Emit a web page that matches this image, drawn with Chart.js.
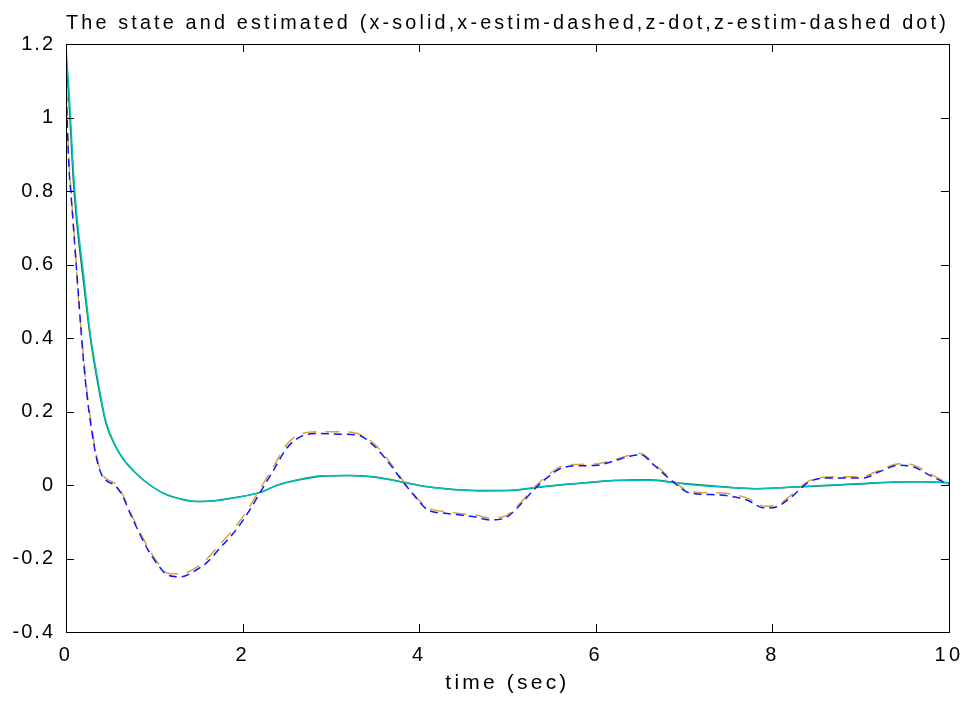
<!DOCTYPE html>
<html>
<head>
<meta charset="utf-8">
<script src="https://cdn.jsdelivr.net/npm/chart.js@4.4.1/dist/chart.umd.min.js"></script>
<style>
  html, body { margin: 0; padding: 0; background: #fff; }
  canvas { display: block; }
</style>
</head>
<body>
<canvas id="state-chart" width="973" height="702"></canvas>
<script>
// time samples (sec) for the slow state x and its estimate
var tX = [0, 0.04, 0.08, 0.12, 0.16, 0.2, 0.27, 0.35, 0.45, 0.55, 0.65, 0.8, 0.95, 1.1, 1.3, 1.5, 1.7, 1.9,
  2.2, 2.4, 2.6, 2.9, 3.2, 3.5, 3.8, 4.1, 4.4, 4.7, 5.0, 5.3, 5.6, 5.9, 6.2, 6.6, 7.0, 7.4, 7.8, 8.2,
  8.6, 9.0, 9.4, 9.7, 10];
var xState = [1.17, 1.02, 0.84, 0.72, 0.63, 0.55, 0.41, 0.29, 0.17, 0.11, 0.07, 0.03, 0.0, -0.022, -0.038,
  -0.045, -0.042, -0.035, -0.02, 0.0, 0.012, 0.024, 0.026, 0.022, 0.009, -0.005, -0.012, -0.015, -0.015,
  -0.008, 0.0, 0.006, 0.012, 0.014, 0.004, -0.004, -0.01, -0.006, -0.002, 0.003, 0.008, 0.009, 0.006];
var xEstim = [1.19, 1.05, 0.87, 0.74, 0.65, 0.57, 0.42, 0.30, 0.175, 0.112, 0.07, 0.03, 0.0, -0.022, -0.039,
  -0.045, -0.043, -0.035, -0.02, 0.0, 0.013, 0.025, 0.026, 0.021, 0.008, -0.005, -0.013, -0.016, -0.015,
  -0.007, 0.001, 0.007, 0.012, 0.013, 0.003, -0.005, -0.01, -0.006, -0.001, 0.004, 0.008, 0.009, 0.005];

// time samples (sec) for z and its estimate
var tZ = [0, 0.03, 0.06, 0.1, 0.14, 0.18, 0.23, 0.29, 0.35, 0.41, 0.47, 0.55, 0.63, 0.75, 0.93, 1.05, 1.15,
  1.3, 1.45, 1.6, 1.75, 1.9, 2.05, 2.2, 2.35, 2.5, 2.67, 2.87, 3.1, 3.3, 3.5, 3.69, 3.8, 3.92, 4.1, 4.29,
  4.48, 4.65, 4.8, 4.97, 5.12, 5.31, 5.45, 5.6, 5.8, 6.02, 6.2, 6.4, 6.51, 6.66, 6.85, 7.07, 7.41, 7.71,
  7.92, 8.05, 8.2, 8.42, 8.65, 9.03, 9.21, 9.44, 9.59, 9.78, 10];
var zState = [1.08, 0.9, 0.79, 0.66, 0.51, 0.40, 0.27, 0.16, 0.075, 0.03, 0.015, 0.005, -0.02, -0.085, -0.17,
  -0.215, -0.24, -0.242, -0.228, -0.2, -0.16, -0.12, -0.07, -0.01, 0.05, 0.11, 0.14, 0.145, 0.145, 0.14,
  0.11, 0.055, 0.018, -0.02, -0.062, -0.072, -0.078, -0.082, -0.09, -0.085, -0.055, -0.005, 0.025, 0.05,
  0.056, 0.058, 0.068, 0.082, 0.086, 0.058, 0.018, -0.018, -0.022, -0.035, -0.058, -0.055, -0.03, 0.012,
  0.022, 0.024, 0.04, 0.058, 0.055, 0.032, 0.003];
var zEstim = [1.1, 0.88, 0.78, 0.65, 0.52, 0.39, 0.26, 0.15, 0.068, 0.025, 0.01, 0.0, -0.025, -0.09, -0.177,
  -0.22, -0.245, -0.25, -0.235, -0.21, -0.17, -0.13, -0.08, -0.02, 0.04, 0.1, 0.133, 0.14, 0.138, 0.136,
  0.104, 0.05, 0.014, -0.022, -0.068, -0.077, -0.082, -0.088, -0.095, -0.09, -0.06, -0.01, 0.02, 0.045,
  0.052, 0.054, 0.065, 0.079, 0.082, 0.054, 0.014, -0.022, -0.027, -0.041, -0.063, -0.059, -0.036, 0.009,
  0.019, 0.019, 0.036, 0.054, 0.05, 0.027, 0.0];

var titleText = 'The state and estimated (x-solid,x-estim-dashed,z-dot,z-estim-dashed dot)';
var xTitle = 'time (sec)';

function pairs(ts, ys) {
  return ts.map(function (t, i) { return { x: t, y: ys[i] }; });
}

// old matlab look: wide letter spacing on the texts.
// title and x axis are drawn before the datasets (wide), the y tick labels (z: 1) after them.
var spacing = {
  id: 'spacing',
  beforeUpdate: function (chart) { chart.ctx.letterSpacing = '2px'; },
  beforeDraw: function (chart) { chart.ctx.letterSpacing = '3.2px'; },
  afterDatasetsDraw: function (chart) { chart.ctx.letterSpacing = '2px'; }
};

// box round the plot with inward ticks on all four sides
var boxTicks = {
  id: 'boxTicks',
  afterDraw: function (chart) {
    var ctx = chart.ctx, a = chart.chartArea;
    var xs = chart.scales.x, ys = chart.scales.y, len = 8;
    ctx.save();
    ctx.strokeStyle = '#000';
    ctx.lineWidth = 1;
    ctx.beginPath();
    xs.ticks.forEach(function (t) {
      var px = Math.round(xs.getPixelForValue(t.value)) + 0.5;
      ctx.moveTo(px, a.bottom); ctx.lineTo(px, a.bottom - len);
      ctx.moveTo(px, a.top); ctx.lineTo(px, a.top + len);
    });
    ys.ticks.forEach(function (t) {
      var py = Math.round(ys.getPixelForValue(t.value)) + 0.5;
      ctx.moveTo(a.left, py); ctx.lineTo(a.left + len, py);
      ctx.moveTo(a.right, py); ctx.lineTo(a.right - len, py);
    });
    ctx.stroke();
    ctx.strokeRect(Math.round(a.left) + 0.5, Math.round(a.top) + 0.5,
      Math.round(a.right - a.left), Math.round(a.bottom - a.top));
    ctx.restore();
  }
};

var ctx = document.getElementById('state-chart').getContext('2d');
var chart = new Chart(ctx, {
  type: 'line',
  data: {
    datasets: [
      {
        label: 'z-estim',
        data: pairs(tZ, zEstim),
        borderColor: '#1414ff',
        borderDash: [8, 5],
        order: 1
      },
      {
        label: 'z',
        data: pairs(tZ, zState),
        borderColor: '#d6a343',
        borderDash: [14, 9],
        order: 2
      },
      {
        label: 'x-estim',
        data: pairs(tX, xEstim),
        borderColor: '#00bfbf',
        order: 3
      },
      {
        label: 'x',
        data: pairs(tX, xState),
        borderColor: '#117a3a',
        order: 4
      }
    ]
  },
  options: {
    responsive: false,
    animation: false,
    datasets: {
      line: { borderWidth: 1.5, pointRadius: 0, fill: false, cubicInterpolationMode: 'monotone' }
    },
    layout: { padding: { top: 0, right: 20, bottom: 0, left: 0 } },
    plugins: {
      legend: { display: false },
      tooltip: { enabled: false },
      title: {
        display: true,
        text: titleText,
        fullSize: false,
        color: '#000',
        font: { family: '"Liberation Sans", Arial, sans-serif', size: 20, weight: 'normal', lineHeight: 1.2 },
        padding: { top: 11, bottom: 9 }
      }
    },
    scales: {
      x: {
        type: 'linear',
        min: 0,
        max: 10,
        grid: { display: false, drawTicks: false },
        border: { display: false },
        ticks: {
          stepSize: 2,
          padding: 11,
          color: '#000',
          font: { family: '"Liberation Sans", Arial, sans-serif', size: 20 }
        },
        title: {
          display: true,
          text: xTitle,
          color: '#000',
          font: { family: '"Liberation Sans", Arial, sans-serif', size: 21, lineHeight: 1.2 },
          padding: { top: 0, bottom: 6 }
        },
        afterFit: function (s) { s.height = 70; }
      },
      y: {
        min: -0.4,
        max: 1.2,
        grid: { display: false, drawTicks: false },
        border: { display: false },
        ticks: {
          z: 1,
          stepSize: 0.2,
          padding: 11,
          color: '#000',
          font: { family: '"Liberation Sans", Arial, sans-serif', size: 20 },
          callback: function (v) { return String(Math.round(v * 10) / 10); }
        },
        afterFit: function (s) { s.width = 66; }
      }
    }
  },
  plugins: [spacing, boxTicks]
});
</script>
</body>
</html>
